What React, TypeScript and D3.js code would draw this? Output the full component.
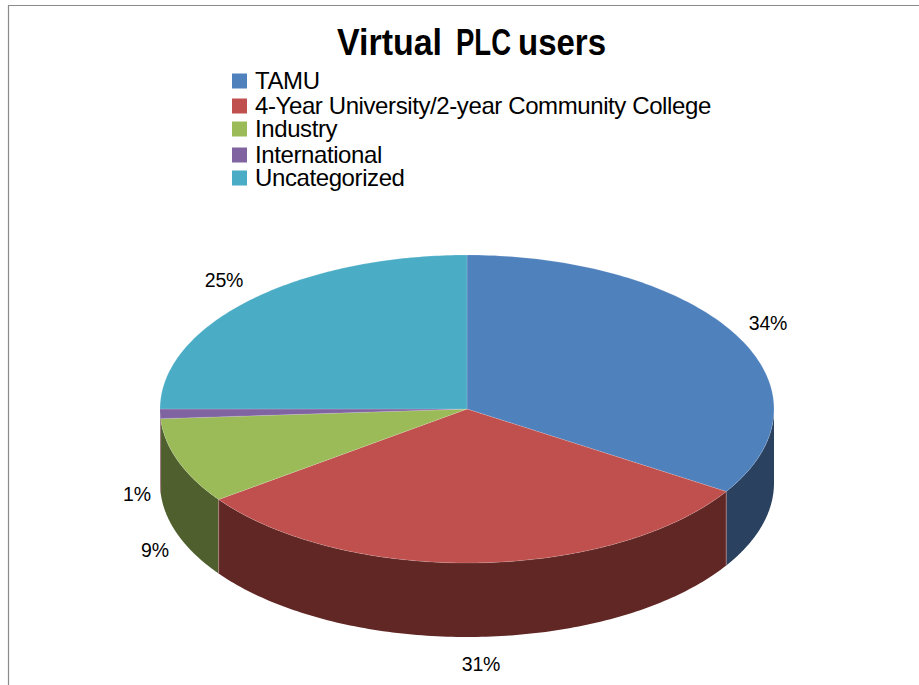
import React from "react";
import * as d3 from "d3";

const categories = ["TAMU", "4-Year University/2-year Community College", "Industry", "International", "Uncategorized"];
const shares = [34, 31, 9, 1, 25];
const topColors = ["#4F81BD", "#C0504D", "#9BBB59", "#8064A2", "#4BACC6"];
const wallColors = ["#2A4160", "#612725", "#4F602E", "#43345A", "#27606F"];
const shareLabels = ["34%", "31%", "9%", "1%", "25%"];
const labelAnchors: [number, number][] = [[768, 323], [481, 664], [155, 550], [137, 494], [224, 280]];
const titleWords: [string, number, number][] = [["Virtual", 337, 105], ["PLC", 456, 55], ["users", 518, 88]];

const width = 919;
const height = 685;
const cx = 467;
const cy = 409;
const rx = 307;
const ry = 154;
const depth = 74;
const font = "'Liberation Sans', Arial, sans-serif";

const px = d3.scaleLinear().domain([-1, 1]).range([cx - rx, cx + rx]);
const py = d3.scaleLinear().domain([-1, 1]).range([cy - ry, cy + ry]);

// Angles run clockwise from twelve o'clock, as in d3.pie.
const rimX = (a: number) => px(Math.sin(a));
const rimY = (a: number) => py(-Math.cos(a));

const slices = d3.pie<number>().sort(null).startAngle(0).endAngle(2 * Math.PI)(shares);

const topPath = (start: number, end: number) => {
  const steps = d3.range(0, 121).map((i) => start + ((end - start) * i) / 120);
  const pts: [number, number][] = [[px(0), py(0)], ...steps.map((a): [number, number] => [rimX(a), rimY(a)])];
  return d3.line()(pts) + "Z";
};

// Only the part of the rim between 90 and 270 degrees faces the viewer.
const wallPath = (start: number, end: number) => {
  const a0 = Math.max(start, Math.PI / 2);
  const a1 = Math.min(end, (3 * Math.PI) / 2);
  if (a1 <= a0) return null;
  const steps = d3.range(0, 121).map((i) => a0 + ((a1 - a0) * i) / 120);
  const upper = steps.map((a): [number, number] => [rimX(a), rimY(a)]);
  const lower = steps.slice().reverse().map((a): [number, number] => [rimX(a), rimY(a) + depth]);
  return d3.line()([...upper, ...lower]) + "Z";
};

const legendRows = [81, 106, 129, 155, 178];

export default function App() {
  return (
    <svg width={width} height={height} style={{ position: "fixed", left: 0, top: 0, background: "#fff" }}>
      <path d={`M8.5 ${height}V5.5H${width}`} fill="none" stroke="#8a8a8a" strokeWidth={1.2} />

      {/* The title's words are set tight, each fitted to its own width. */}
      {titleWords.map(([w, x, len]) => (
        <text key={w} x={x} y={55} textLength={len} lengthAdjust="spacingAndGlyphs" fontFamily={font} fontWeight={700} fontSize={37} fill="#000">
          {w}
        </text>
      ))}

      {categories.map((c, i) => (
        <g key={c}>
          <rect x={232} y={legendRows[i] - 7.5} width={15} height={15} fill={topColors[i]} />
          <text x={255} y={legendRows[i] + 8} fontFamily={font} fontSize={24} letterSpacing={-0.4} fill="#000">
            {c}
          </text>
        </g>
      ))}

      {slices.map((s, i) => {
        const d = wallPath(s.startAngle, s.endAngle);
        return d ? <path key={i} d={d} fill={wallColors[i]} /> : null;
      })}
      {slices.map((s, i) => {
        const a = s.endAngle;
        if (a <= Math.PI / 2 || a >= (3 * Math.PI) / 2) return null;
        return <line key={i} x1={rimX(a)} x2={rimX(a)} y1={rimY(a)} y2={rimY(a) + depth} stroke="#B98A88" strokeWidth={0.7} />;
      })}
      {slices.map((s, i) => (
        <path key={i} d={topPath(s.startAngle, s.endAngle)} fill={topColors[i]} stroke="#ffffff" strokeOpacity={0.25} strokeWidth={0.6} />
      ))}

      {shareLabels.map((t, i) => (
        <text key={t} x={labelAnchors[i][0]} y={labelAnchors[i][1] + 7} textAnchor="middle" fontFamily={font} fontSize={19.5} letterSpacing={-0.2} fill="#000">
          {t}
        </text>
      ))}
    </svg>
  );
}
